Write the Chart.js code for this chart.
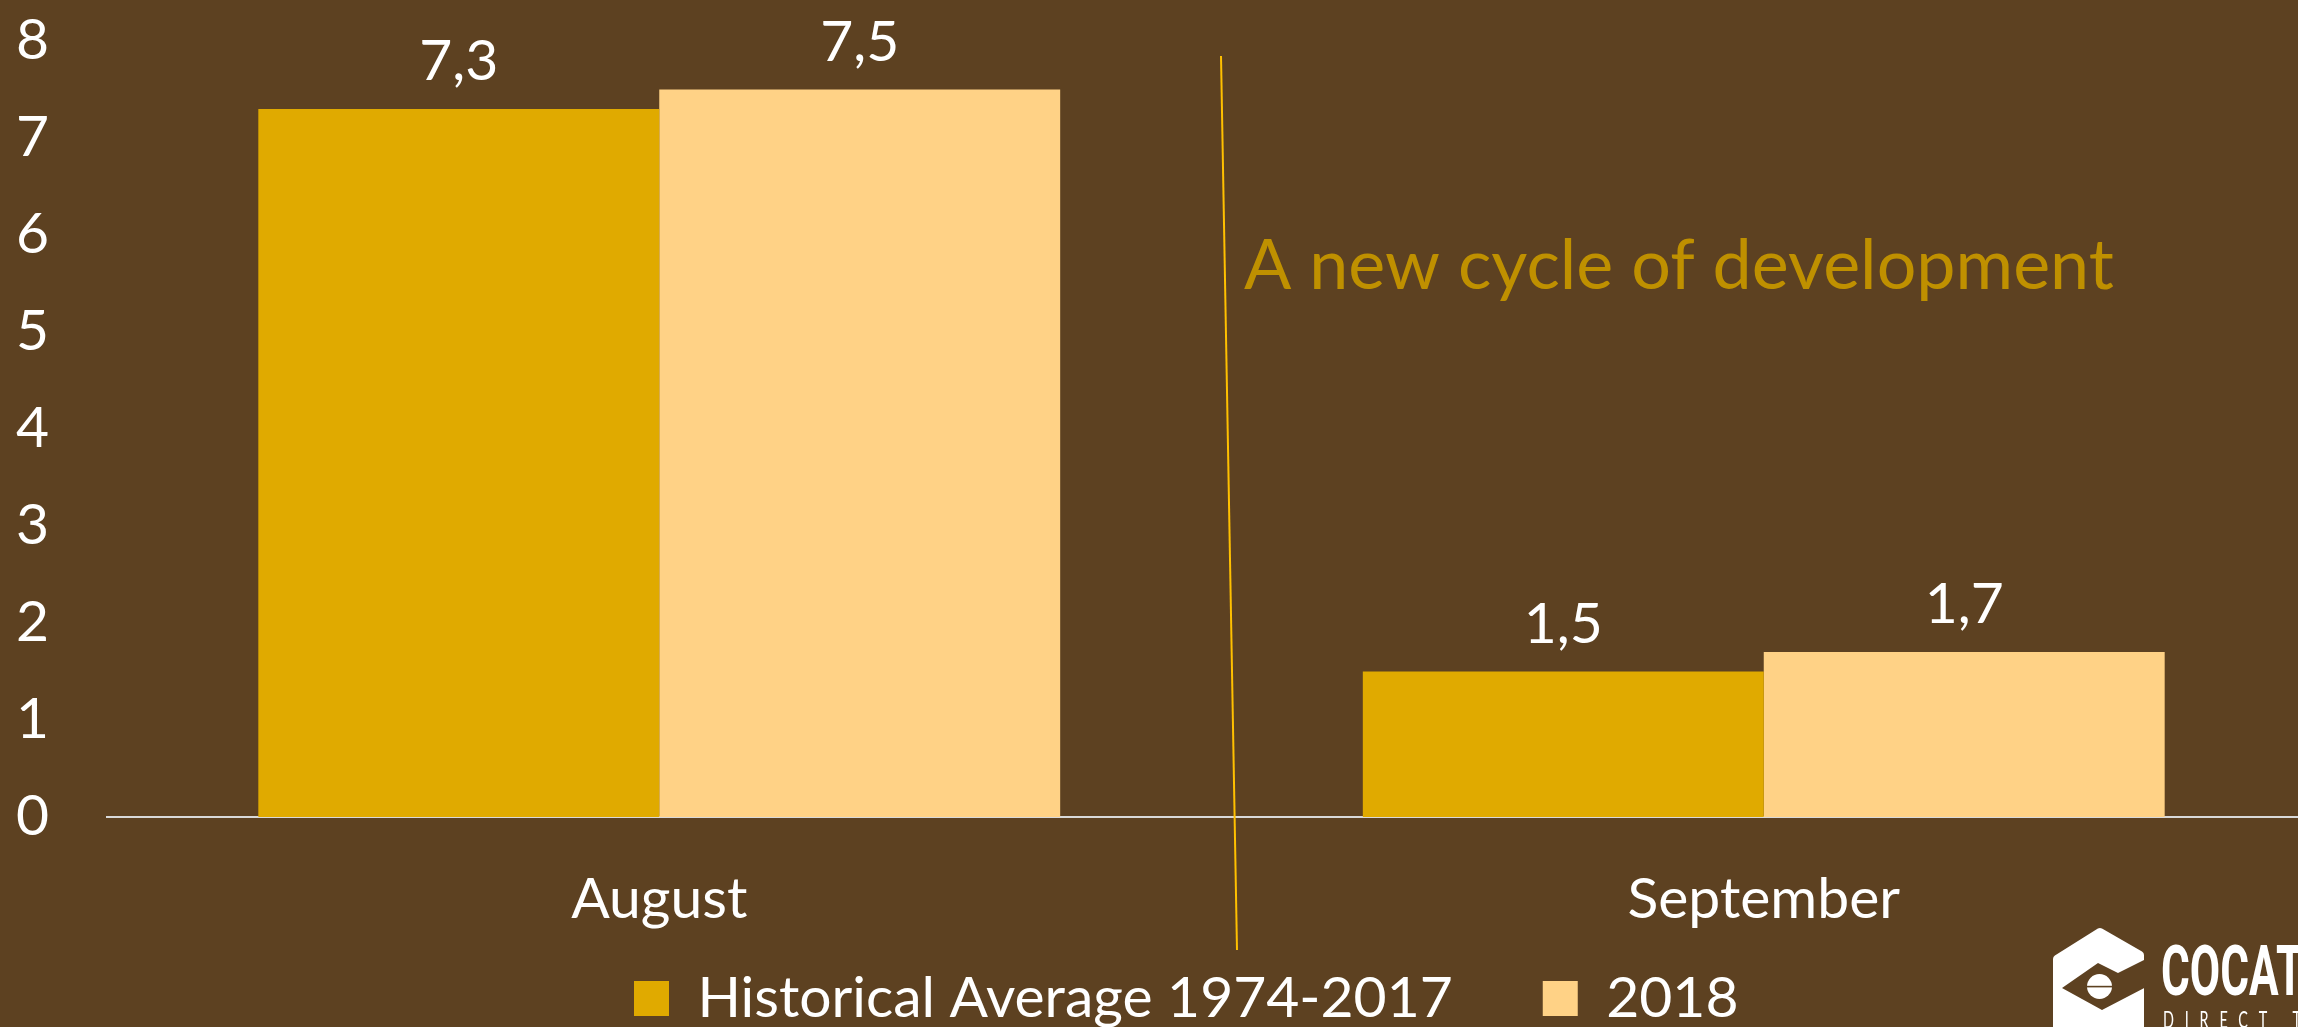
<!DOCTYPE html>
<html>
<head>
<meta charset="utf-8">
<script src="https://cdn.jsdelivr.net/npm/chart.js@4.4.1/dist/chart.umd.min.js"></script>
<style>
  html, body { margin: 0; padding: 0; background: #5d4121; overflow: hidden; }
  #wrap { width: 2298px; height: 1027px; overflow: hidden; position: relative; }
  canvas { display: block; }
</style>
</head>
<body>
<div id="wrap"><canvas id="monthChart" width="2316" height="1027"></canvas></div>
<script>
// chart data
const months = ["August", "September"];
const historicalAvg = [7.3, 1.5];
const year2018 = [7.5, 1.7];
const seriesNames = ["Historical Average 1974-2017", "2018"];
const yTicks = [0, 1, 2, 3, 4, 5, 6, 7, 8];
const noteText = "A new cycle of development";

const FONT = 'Lato, "Noto Sans", sans-serif';
Chart.defaults.font.family = FONT;
Chart.defaults.color = "#ffffff";

// values above the bars, with a decimal comma
const barValueLabels = {
    id: "barValueLabels",
    afterDatasetsDraw(chart) {
        const ctx = chart.ctx;
        ctx.save();
        ctx.font = "57px " + FONT;
        ctx.fillStyle = "#ffffff";
        ctx.textAlign = "center";
        ctx.textBaseline = "alphabetic";
        chart.data.datasets.forEach((ds, i) => {
            chart.getDatasetMeta(i).data.forEach((bar, j) => {
                ctx.fillText(ds.data[j].toFixed(1).replace(".", ","), bar.x, bar.y - 29);
            });
        });
        ctx.restore();
    }
};

// legend and category labels where the slide has them
const layoutTweaks = {
    id: "layoutTweaks",
    afterLayout(chart) {
        const lg = chart.legend;
        lg.left = 634 - lg.options.labels.padding;
        lg.top += 10;
        lg.bottom += 10;
        // the label clip box of the x axis runs to the canvas bottom
        chart.scales.x.bottom = chart.height;
    }
};

// divider line, note text and logo
const slideExtras = {
    id: "slideExtras",
    afterDraw(chart) {
        const ctx = chart.ctx;
        ctx.save();

        ctx.strokeStyle = "#ffc000";
        ctx.lineWidth = 2;
        ctx.beginPath();
        ctx.moveTo(1221, 56);
        ctx.lineTo(1237, 950);
        ctx.stroke();

        ctx.font = "70px " + FONT;
        ctx.fillStyle = "#bf9000";
        ctx.textAlign = "left";
        ctx.textBaseline = "alphabetic";
        ctx.fillText(noteText, 1244, 289);

        // logo mark
        ctx.fillStyle = "#ffffff";
        ctx.strokeStyle = "#ffffff";
        ctx.lineJoin = "round";
        ctx.lineWidth = 8;
        ctx.beginPath();
        ctx.moveTo(2100, 932);
        ctx.lineTo(2140, 955);
        ctx.lineTo(2140, 1045);
        ctx.lineTo(2057, 1045);
        ctx.lineTo(2057, 959);
        ctx.closePath();
        ctx.fill();
        ctx.stroke();

        ctx.fillStyle = "#5d4121";
        ctx.beginPath();
        ctx.moveTo(2098, 963);
        ctx.lineTo(2118, 973);
        ctx.lineTo(2150, 957);
        ctx.lineTo(2150, 985);
        ctx.lineTo(2102, 1010);
        ctx.lineTo(2062, 988);
        ctx.closePath();
        ctx.fill();

        ctx.fillStyle = "#ffffff";
        ctx.beginPath();
        ctx.arc(2099.5, 986.5, 12.5, 0, Math.PI * 2);
        ctx.fill();
        ctx.fillStyle = "#5d4121";
        ctx.fillRect(2087, 985.8, 25, 1.6);

        // logo word
        ctx.fillStyle = "#ffffff";
        ctx.save();
        ctx.translate(2161, 995);
        ctx.scale(0.63, 1);
        ctx.font = "bold 70px Roboto";
        ctx.fillText("COCAT", 0, 0);
        ctx.restore();

        ctx.save();
        ctx.translate(2163, 1028);
        ctx.scale(0.6, 1);
        ctx.font = "24px Lato";
        ctx.letterSpacing = "18px";
        ctx.fillText("DIRECT T", 0, 0);
        ctx.restore();

        ctx.restore();
    }
};

const ctx = document.getElementById("monthChart").getContext("2d");
const monthChart = new Chart(ctx, {
    type: "bar",
    data: {
        labels: months,
        datasets: [
            {
                label: seriesNames[0],
                data: historicalAvg,
                backgroundColor: "#e0aa00",
                borderWidth: 0,
                categoryPercentage: 0.726,
                barPercentage: 1.0
            },
            {
                label: seriesNames[1],
                data: year2018,
                backgroundColor: "#ffd286",
                borderWidth: 0,
                categoryPercentage: 0.726,
                barPercentage: 1.0
            }
        ]
    },
    options: {
        responsive: false,
        animation: false,
        events: [],
        layout: { padding: { top: 41, left: 16, right: 0, bottom: 0 } },
        scales: {
            x: {
                grid: { display: false },
                border: { display: true, color: "#d9d9d9", width: 2 },
                ticks: { color: "#ffffff", font: { size: 57 }, padding: 40 },
                afterFit(scale) { scale.height = 53; }
            },
            y: {
                min: 0,
                max: 8,
                grid: { display: false },
                border: { display: false },
                ticks: { color: "#ffffff", font: { size: 57 }, crossAlign: "far" },
                afterBuildTicks(scale) { scale.ticks = yTicks.map(v => ({ value: v })); },
                afterFit(scale) { scale.width = 91; }
            }
        },
        plugins: {
            tooltip: { enabled: false },
            legend: {
                position: "bottom",
                align: "start",
                labels: {
                    color: "#ffffff",
                    font: { size: 57 },
                    boxWidth: 35,
                    boxHeight: 35,
                    padding: 90
                }
            }
        }
    },
    plugins: [barValueLabels, layoutTweaks, slideExtras]
});
</script>
</body>
</html>
